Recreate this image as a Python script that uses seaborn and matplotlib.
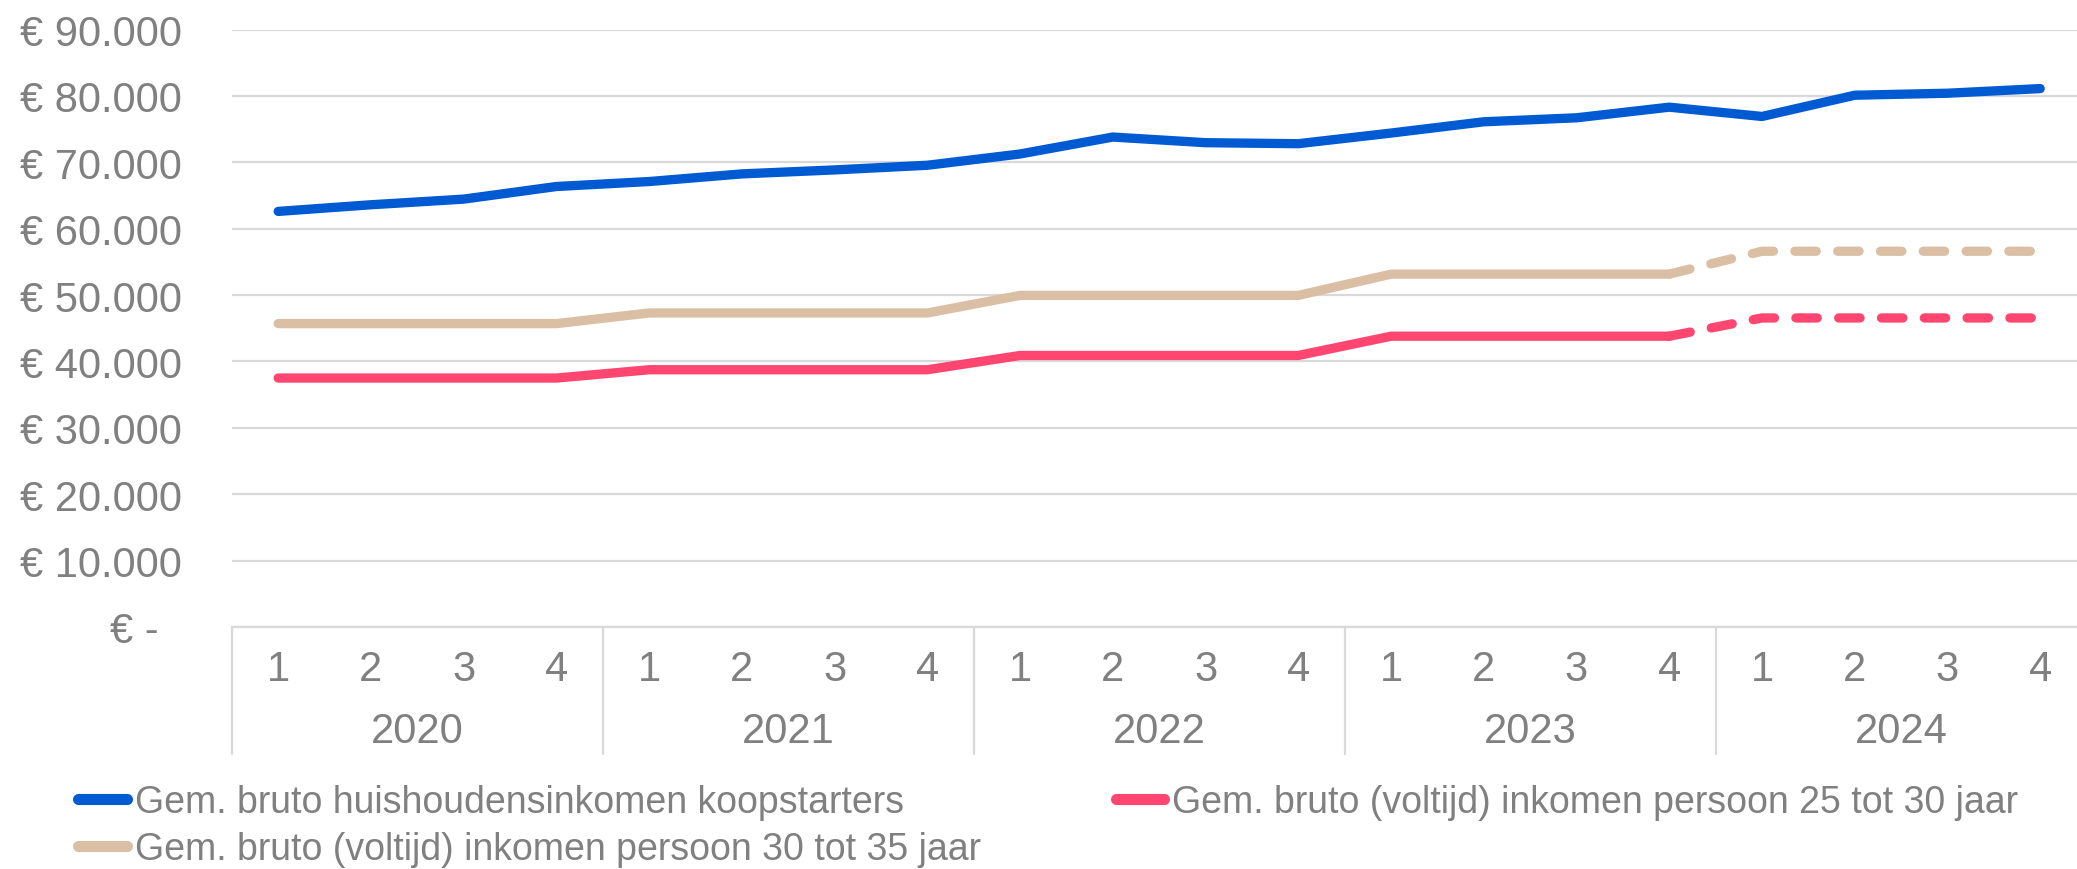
import numpy as np
import pandas as pd
import matplotlib.pyplot as plt
import matplotlib.transforms as mtransforms
import seaborn as sns
from matplotlib.lines import Line2D

# Data (euro per year, per quarter)
years = ['2020', '2021', '2022', '2023', '2024']
quarters = ['1', '2', '3', '4']

huishouden_koopstarters = [62600, 63600, 64450, 66350, 67100, 68250, 68850, 69550,
                           71250, 73800, 72950, 72800, 74400, 76100, 76700, 78300,
                           76900, 80100, 80400, 81100]
persoon_25_30 = [37500, 37500, 37500, 37500, 38750, 38750, 38750, 38750,
                 40900, 40900, 40900, 40900, 43800, 43800, 43800, 43800,
                 46550, 46550, 46550, 46550]
persoon_30_35 = [45700, 45700, 45700, 45700, 47300, 47300, 47300, 47300,
                 49950, 49950, 49950, 49950, 53150, 53150, 53150, 53150,
                 56600, 56600, 56600, 56600]

labels = {
    'huis': 'Gem. bruto huishoudensinkomen koopstarters',
    'p25': 'Gem. bruto (voltijd) inkomen persoon 25 tot 30 jaar',
    'p30': 'Gem. bruto (voltijd) inkomen persoon 30 tot 35 jaar',
}
colors = {'huis': '#005AD2', 'p25': '#FF4671', 'p30': '#DBBFA5'}
last_actual = 15  # Q4 2023: from here on the 25-35 series are a forecast (dashed)

sns.set_style('white')
plt.rcParams['font.family'] = ['Liberation Sans', 'DejaVu Sans']
grey = '#808080'
grid = '#D9D9D9'
fs = 30

period = [f'{y}-Q{q}' for y in years for q in quarters]
df = pd.DataFrame({
    'period': period,
    'pos': np.arange(len(period)),
    'huis': huishouden_koopstarters,
    'p25': persoon_25_30,
    'p30': persoon_30_35,
})

fig = plt.figure(figsize=(20.77, 8.7), dpi=100)
H = 870
ax = fig.add_axes([0.1116, 1 - 628 / H, 0.893, (628 - 30.5) / H])

lw = 6.7
for key in ['p30', 'p25']:
    solid = df.iloc[:last_actual + 1]
    dashed = df.iloc[last_actual:]
    sns.lineplot(data=solid, x='pos', y=key, color=colors[key], lw=lw,
                 solid_capstyle='round', solid_joinstyle='round', ax=ax)
    sns.lineplot(data=dashed, x='pos', y=key, color=colors[key], lw=lw,
                 linestyle=(0, (2.3, 2.3)), dash_capstyle='round', ax=ax)
sns.lineplot(data=df, x='pos', y='huis', color=colors['huis'], lw=lw,
             solid_capstyle='round', solid_joinstyle='round', ax=ax)

ax.set_xlim(-0.5, len(period) - 0.5)
ax.set_ylim(0, 90000)
yt = np.arange(0, 90001, 10000)
ax.set_yticks(yt)
ax.set_yticklabels(['€ -  ' if v == 0 else '€ ' + f'{v:,}'.replace(',', '.') for v in yt])
ax.set_xticks(df['pos'])
ax.set_xticklabels([q for y in years for q in quarters])
ax.tick_params(axis='both', length=0, labelsize=fs, labelcolor=grey)
ax.tick_params(axis='y', pad=36)
ax.tick_params(axis='x', pad=16)
ax.set_xlabel('')
ax.set_ylabel('')

ax.yaxis.grid(True, color=grid, lw=1.6)
ax.xaxis.grid(False)
ax.set_axisbelow(True)
for s in ['left', 'right', 'top']:
    ax.spines[s].set_visible(False)
ax.spines['bottom'].set_color(grid)
ax.spines['bottom'].set_linewidth(1.6)

# second category level: years with dividers
trans = mtransforms.blended_transform_factory(ax.transData, ax.transAxes)
ax_h = 628 - 30.5
for i, y in enumerate(years):
    centre = df['pos'][i * 4:(i + 1) * 4].mean()
    ax.text(centre, -104 / ax_h, y, transform=trans, ha='center', va='center',
            fontsize=fs, color=grey)
for b in np.arange(-0.5, len(period), 4):
    ax.axvline(b, ymin=-127 / ax_h, ymax=0, color=grid, lw=1.6, clip_on=False)

handles = [
    Line2D([], [], color=colors['huis'], lw=8, solid_capstyle='round'),
    Line2D([], [], color=colors['p30'], lw=8, solid_capstyle='round'),
    Line2D([], [], color=colors['p25'], lw=8, solid_capstyle='round'),
]
fig.legend(handles, [labels['huis'], labels['p30'], labels['p25']],
           loc='upper left', bbox_to_anchor=(0.0377, 0.098), ncol=2, frameon=False,
           fontsize=27, labelcolor=grey, handlelength=1.3, handletextpad=0.2,
           columnspacing=3.6, labelspacing=0.3, borderpad=0, borderaxespad=0)

fig.savefig('out.png', dpi=100)
